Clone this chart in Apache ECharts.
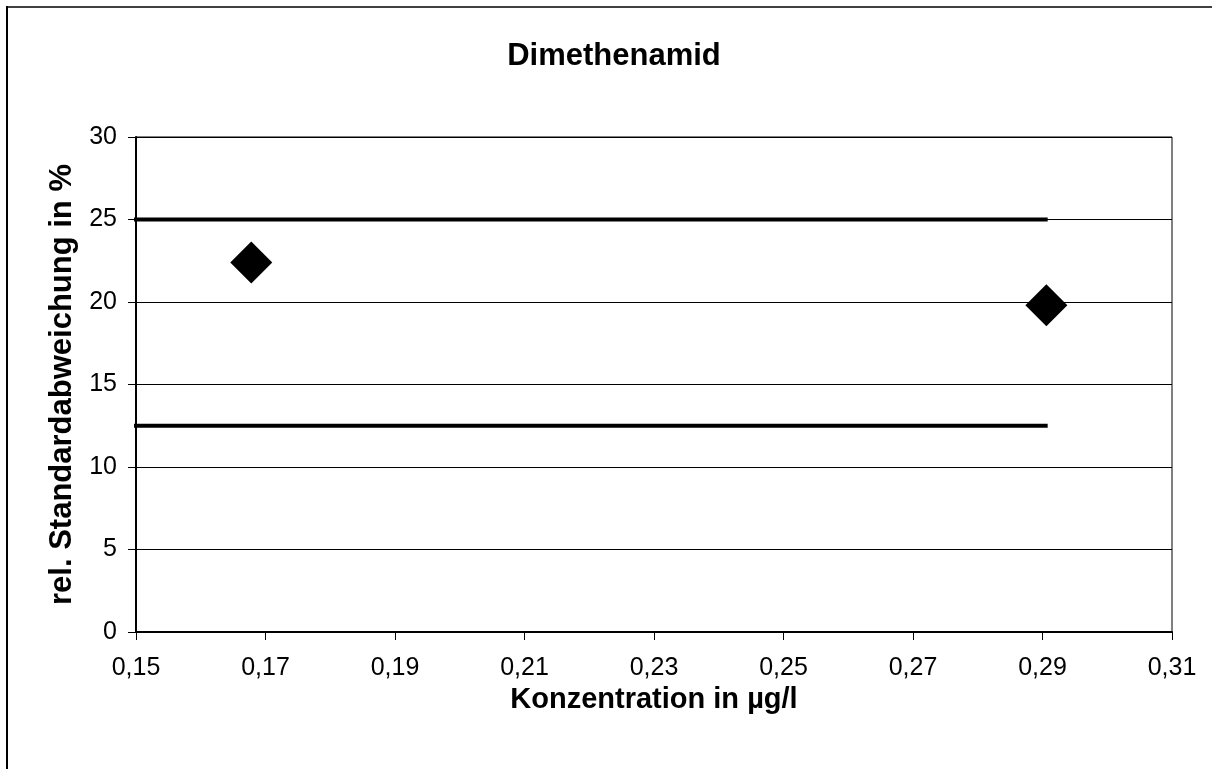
<!DOCTYPE html>
<html><head><meta charset="utf-8">
<script src="https://cdn.jsdelivr.net/npm/echarts@6/dist/echarts.min.js"></script>
<style>html,body{margin:0;padding:0;background:#fff}#c{width:1212px;height:769px}</style>
</head><body><div id="c"></div>
<script>
const chartTitle = 'Dimethenamid';
const xAxisTitle = 'Konzentration in µg/l';
const yAxisTitle = 'rel. Standardabweichung in %';
const pointsX = [0.1678, 0.2906];
const pointsY = [22.4, 19.8];
const upperLimitX = [0.1471, 0.2908];
const upperLimitY = [25, 25];
const lowerLimitX = [0.1471, 0.2908];
const lowerLimitY = [12.5, 12.5];

const F = '"Liberation Sans", Arial, sans-serif';
const chart = echarts.init(document.getElementById('c'), null, {renderer:'canvas'});
chart.setOption({
  animation:false,
  backgroundColor:'#fff',
  title:{text:chartTitle, left:609, top:36, textAlign:'center',
    textStyle:{fontFamily:F, fontSize:31, fontWeight:'bold', color:'#000'}},
  grid:{left:136, right:40, top:137, bottom:137, show:true, borderColor:'#000', borderWidth:1, backgroundColor:'transparent'},
  xAxis:{type:'value', min:0.15, max:0.31, interval:0.02,
    name:xAxisTitle, nameLocation:'middle', nameGap:50,
    nameTextStyle:{fontFamily:F, fontSize:29, fontWeight:'bold', color:'#000'},
    axisLine:{show:true, onZero:false, lineStyle:{color:'#000', width:2}},
    axisTick:{show:true, length:8, lineStyle:{color:'#000'}},
    axisLabel:{fontFamily:F, fontSize:25, color:'#000', margin:24,
      formatter:v=>v.toFixed(2).replace('.',',')},
    splitLine:{show:false}},
  yAxis:{type:'value', min:0, max:30, interval:5,
    name:yAxisTitle, nameLocation:'middle', nameGap:52,
    nameTextStyle:{fontFamily:F, fontSize:31, fontWeight:'bold', color:'#000'},
    axisLine:{show:true, lineStyle:{color:'#000', width:2}},
    axisTick:{show:true, length:8, lineStyle:{color:'#000'}},
    axisLabel:{fontFamily:F, fontSize:25, color:'#000', margin:19},
    splitLine:{show:true, lineStyle:{color:'#000', width:1}}},
  graphic:[
    {type:'line', shape:{x1:6, y1:7, x2:1212, y2:7}, style:{stroke:'#404040', lineWidth:2}},
    {type:'line', shape:{x1:7, y1:6, x2:7, y2:769}, style:{stroke:'#000', lineWidth:2}}
  ],
  series:[
    {type:'line', clip:false, symbol:'none', data:upperLimitX.map((x,i)=>[x,upperLimitY[i]]),
      lineStyle:{color:'#000', width:4}, z:3},
    {type:'line', clip:false, symbol:'none', data:lowerLimitX.map((x,i)=>[x,lowerLimitY[i]]),
      lineStyle:{color:'#000', width:4}, z:3},
    {type:'scatter', symbol:'diamond', symbolSize:[42,42], data:pointsX.map((x,i)=>[x,pointsY[i]]),
      itemStyle:{color:'#000', opacity:1}, z:4}
  ]
});
</script></body></html>
